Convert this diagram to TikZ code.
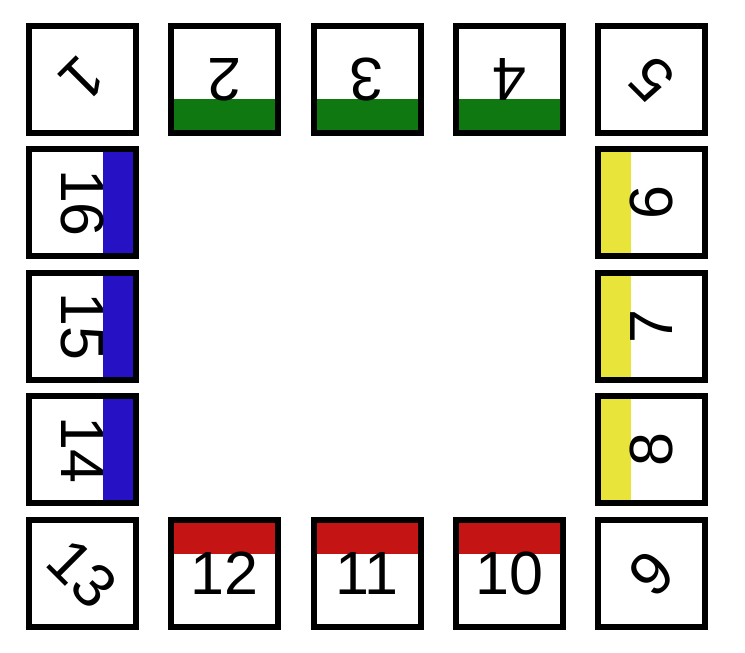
\documentclass[tikz,border=0pt]{standalone}
\usepackage{fontspec}
\setmainfont{Liberation Sans}
\usetikzlibrary{backgrounds,calc}
\definecolor{bargreen}{RGB}{16,120,16}
\definecolor{barred}{RGB}{196,20,20}
\definecolor{barblue}{RGB}{38,18,196}
\definecolor{baryellow}{RGB}{232,228,58}
\begin{document}
\begin{tikzpicture}[x=1pt,y=1pt,
  cell/.style={draw=black, line width=6pt, minimum size=107pt, inner sep=0pt, outer sep=0pt},
  num/.style={font=\fontsize{61}{61}\selectfont, inner sep=0pt}]
\useasboundingbox (0,0) rectangle (745,653);
% columns: 82.5, 224.75, 367, 509.25, 651.5 ; rows: 573.5, 450, 326.5, 203, 79.5
\node[cell] (s1)  at (82.5,573.5) {};
\node[cell] (s2)  at (224.75,573.5) {};
\node[cell] (s3)  at (367,573.5) {};
\node[cell] (s4)  at (509.25,573.5) {};
\node[cell] (s5)  at (651.5,573.5) {};
\node[cell] (s6)  at (651.5,450) {};
\node[cell] (s7)  at (651.5,326.5) {};
\node[cell] (s8)  at (651.5,203) {};
\node[cell] (s9)  at (651.5,79.5) {};
\node[cell] (s10) at (509.25,79.5) {};
\node[cell] (s11) at (367,79.5) {};
\node[cell] (s12) at (224.75,79.5) {};
\node[cell] (s13) at (82.5,79.5) {};
\node[cell] (s14) at (82.5,203) {};
\node[cell] (s15) at (82.5,326.5) {};
\node[cell] (s16) at (82.5,450) {};
\begin{scope}[on background layer]
  \foreach \s in {s2,s3,s4}
    \fill[bargreen] (\s.south west) rectangle ($(\s.south east)+(0,34)$);
  \foreach \s in {s10,s11,s12}
    \fill[barred] ($(\s.north west)+(0,-34)$) rectangle (\s.north east);
  \foreach \s in {s14,s15,s16}
    \fill[barblue] ($(\s.north east)+(-33,0)$) rectangle (\s.south east);
  \foreach \s in {s6,s7,s8}
    \fill[baryellow] (\s.south west) rectangle ($(\s.north west)+(33,0)$);
\end{scope}
\node[num, rotate=-135] (t1)  at (s1)  {1};
\node[num, rotate=180]  (t2)  at (s2)  {2};
\node[num, rotate=180]  (t3)  at (s3)  {3};
\node[num, rotate=180]  (t4)  at (s4)  {4};
\node[num, rotate=135]  (t5)  at (s5)  {5};
\node[num, rotate=90]   (t6)  at (s6)  {6};
\node[num, rotate=90]   (t7)  at (s7)  {7};
\node[num, rotate=90]   (t8)  at (s8)  {8};
\node[num, rotate=45]   (t9)  at (s9)  {9};
\node[num]              (t10) at (s10) {10};
\node[num]              (t11) at (s11) {11};
\node[num]              (t12) at (s12) {12};
\node[num, rotate=-45]  (t13) at (s13) {13};
\node[num, rotate=-90]  (t14) at (s14) {14};
\node[num, rotate=-90]  (t15) at (s15) {15};
\node[num, rotate=-90]  (t16) at (s16) {16};
\end{tikzpicture}
\end{document}
